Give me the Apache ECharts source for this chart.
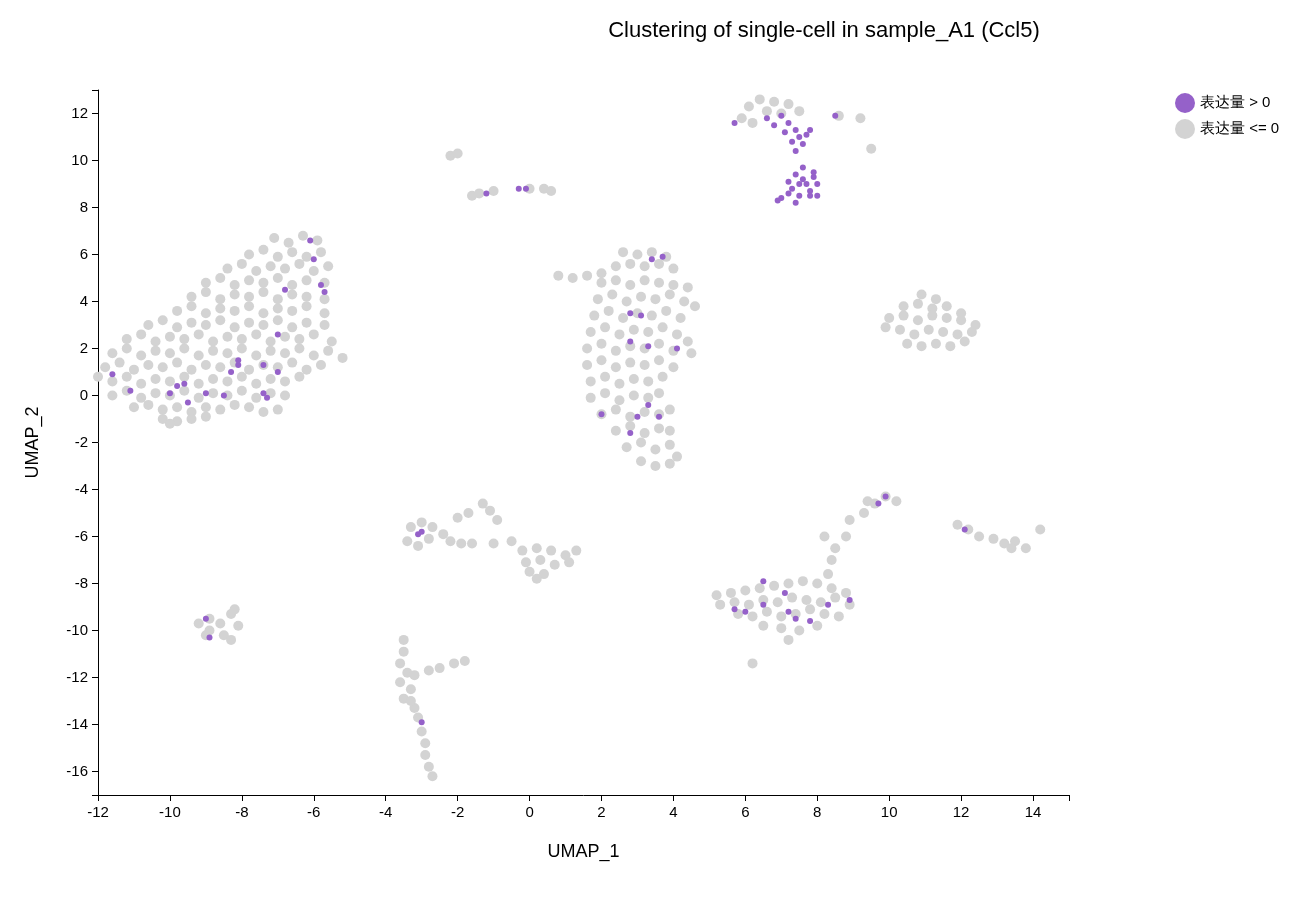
<!DOCTYPE html>
<html><head><meta charset="utf-8">
<script src="https://cdn.jsdelivr.net/npm/echarts@6/dist/echarts.min.js"></script>
<style>html,body{margin:0;background:#fff}#c{width:1312px;height:907px}</style></head>
<body><div id="c"></div>
<script>
const titleText = 'Clustering of single-cell in sample_A1 (Ccl5)';
const seriesNames = ['表达量 > 0', '表达量 <= 0'];
const xTicks = [-12,-10,-8,-6,-4,-2,0,2,4,6,8,10,12,14];
const xTickMarks = [-12,-10,-8,-6,-4,-2,0,2,4,6,8,10,12,14,15];
const yTicks = [-16,-14,-12,-10,-8,-6,-4,-2,0,2,4,6,8,10,12];
const yTickMarks = [-17,-16,-14,-12,-10,-8,-6,-4,-2,0,2,4,6,8,10,12,13];

const grayPoints = [
[-7.1,6.7],[-6.7,6.5],[-6.3,6.8],[-5.9,6.6],
[-7.8,6.0],[-7.4,6.2],[-7.0,5.9],[-6.6,6.1],[-6.2,5.9],[-5.8,6.1],
[-8.4,5.4],[-8.0,5.6],[-7.6,5.3],[-7.2,5.5],[-6.8,5.4],[-6.4,5.6],[-6.0,5.3],[-5.6,5.5],
[-9.0,4.8],[-8.6,5.0],[-8.2,4.7],[-7.8,4.9],[-7.4,4.8],[-7.0,5.0],[-6.6,4.7],[-6.2,4.9],[-5.7,4.8],
[-9.4,4.2],[-9.0,4.4],[-8.6,4.1],[-8.2,4.3],[-7.8,4.2],[-7.4,4.4],[-7.0,4.1],[-6.6,4.3],[-6.2,4.2],[-5.7,4.1],
[-9.8,3.6],[-9.4,3.8],[-9.0,3.5],[-8.6,3.7],[-8.2,3.6],[-7.8,3.8],[-7.4,3.5],[-7.0,3.7],[-6.6,3.6],[-6.2,3.8],[-5.7,3.5],
[-10.6,3.0],[-10.2,3.2],[-9.8,2.9],[-9.4,3.1],[-9.0,3.0],[-8.6,3.2],[-8.2,2.9],[-7.8,3.1],[-7.4,3.0],[-7.0,3.2],[-6.6,2.9],[-6.2,3.1],[-5.7,3.0],
[-11.2,2.4],[-10.8,2.6],[-10.4,2.3],[-10.0,2.5],[-9.6,2.4],[-9.2,2.6],[-8.8,2.3],[-8.4,2.5],[-8.0,2.4],[-7.6,2.6],[-7.2,2.3],[-6.8,2.5],[-6.4,2.4],[-6.0,2.6],[-5.5,2.3],
[-11.6,1.8],[-11.2,2.0],[-10.8,1.7],[-10.4,1.9],[-10.0,1.8],[-9.6,2.0],[-9.2,1.7],[-8.8,1.9],[-8.4,1.8],[-8.0,2.0],[-7.6,1.7],[-7.2,1.9],[-6.8,1.8],[-6.4,2.0],[-6.0,1.7],[-5.6,1.9],[-5.2,1.6],
[-11.8,1.2],[-11.4,1.4],[-11.0,1.1],[-10.6,1.3],[-10.2,1.2],[-9.8,1.4],[-9.4,1.1],[-9.0,1.3],[-8.6,1.2],[-8.2,1.4],[-7.8,1.1],[-7.4,1.3],[-7.0,1.2],[-6.6,1.4],[-6.2,1.1],[-5.8,1.3],
[-12.0,0.8],[-11.6,0.6],[-11.2,0.8],[-10.8,0.5],[-10.4,0.7],[-10.0,0.6],[-9.6,0.8],[-9.2,0.5],[-8.8,0.7],[-8.4,0.6],[-8.0,0.8],[-7.6,0.5],[-7.2,0.7],[-6.8,0.6],[-6.4,0.8],
[-11.6,0.0],[-11.2,0.2],[-10.8,-0.1],[-10.4,0.1],[-10.0,0.0],[-9.6,0.2],[-9.2,-0.1],[-8.8,0.1],[-8.4,0.0],[-8.0,0.2],[-7.6,-0.1],[-7.2,0.1],[-6.8,0.0],
[-11.0,-0.5],[-10.6,-0.4],[-10.2,-0.6],[-9.8,-0.5],[-9.4,-0.7],[-9.0,-0.5],[-8.6,-0.6],[-8.2,-0.4],[-7.8,-0.5],[-7.4,-0.7],[-7.0,-0.6],
[-10.2,-1.0],[-9.8,-1.1],[-9.4,-1.0],[-9.0,-0.9],[-10.0,-1.2],
[2.6,6.1],[3.0,6.0],[3.4,6.1],[3.8,5.9],
[0.8,5.1],[1.2,5.0],[1.6,5.1],[2.0,5.2],[2.4,5.5],[2.8,5.6],[3.2,5.5],[3.6,5.6],[4.0,5.4],
[2.0,4.8],[2.4,4.9],[2.8,4.7],[3.2,4.9],[3.6,4.8],[4.0,4.7],[4.4,4.6],
[1.9,4.1],[2.3,4.3],[2.7,4.0],[3.1,4.2],[3.5,4.1],[3.9,4.3],[4.3,4.0],[4.6,3.8],
[1.8,3.4],[2.2,3.6],[2.6,3.3],[3.0,3.5],[3.4,3.4],[3.8,3.6],[4.2,3.3],
[1.7,2.7],[2.1,2.9],[2.5,2.6],[2.9,2.8],[3.3,2.7],[3.7,2.9],[4.1,2.6],[4.4,2.3],
[1.6,2.0],[2.0,2.2],[2.4,1.9],[2.8,2.1],[3.2,2.0],[3.6,2.2],[4.0,1.9],[4.5,1.8],
[1.6,1.3],[2.0,1.5],[2.4,1.2],[2.8,1.4],[3.2,1.3],[3.6,1.5],[4.0,1.2],
[1.7,0.6],[2.1,0.8],[2.5,0.5],[2.9,0.7],[3.3,0.6],[3.7,0.8],
[1.7,-0.1],[2.1,0.1],[2.5,-0.2],[2.9,0.0],[3.3,-0.1],[3.6,0.1],
[2.0,-0.8],[2.4,-0.6],[2.8,-0.9],[3.2,-0.7],[3.6,-0.8],[3.9,-0.6],
[2.4,-1.5],[2.8,-1.3],[3.2,-1.6],[3.6,-1.4],[3.9,-1.5],
[2.7,-2.2],[3.1,-2.0],[3.5,-2.3],[3.9,-2.1],[4.1,-2.6],
[3.1,-2.8],[3.5,-3.0],[3.9,-2.9],
[10.9,4.3],[11.3,4.1],[10.4,3.8],[10.8,3.9],[11.2,3.7],[11.6,3.8],[12.0,3.5],
[10.0,3.3],[10.4,3.4],[10.8,3.2],[11.2,3.4],[11.6,3.3],[12.0,3.2],[12.4,3.0],
[9.9,2.9],[10.3,2.8],[10.7,2.6],[11.1,2.8],[11.5,2.7],[11.9,2.6],[12.3,2.7],
[10.5,2.2],[10.9,2.1],[11.3,2.2],[11.7,2.1],[12.1,2.3],
[6.1,12.3],[6.4,12.6],[6.8,12.5],[7.2,12.4],[7.5,12.1],[6.6,12.1],[5.9,11.8],[6.2,11.6],[8.6,11.9],[9.2,11.8],[9.5,10.5],[7.0,12.0],
[-2.2,10.2],[-2.0,10.3],[-1.6,8.5],[-1.4,8.6],[-1.0,8.7],[0.0,8.8],[0.4,8.8],[0.6,8.7],
[-3.3,-5.6],[-3.0,-5.4],[-2.7,-5.6],[-2.4,-5.9],[-3.4,-6.2],[-3.1,-6.4],[-2.8,-6.1],[-2.2,-6.2],[-1.9,-6.3],[-1.6,-6.3],[-2.0,-5.2],[-1.7,-5.0],[-1.3,-4.6],[-1.1,-4.9],[-0.9,-5.3],[-0.5,-6.2],[-0.2,-6.6],[0.2,-6.5],[0.6,-6.6],[1.0,-6.8],[1.3,-6.6],[-0.1,-7.1],[0.3,-7.0],[0.7,-7.2],[1.1,-7.1],[0.0,-7.5],[0.4,-7.6],[0.2,-7.8],[-1.0,-6.3],
[-9.2,-9.7],[-8.9,-9.5],[-8.6,-9.7],[-8.3,-9.3],[-8.2,-9.1],[-8.9,-10.0],[-8.5,-10.2],[-8.3,-10.4],[-8.1,-9.8],[-9.0,-10.2],
[-3.5,-10.4],[-3.5,-10.9],[-3.6,-11.4],[-3.4,-11.8],[-3.6,-12.2],[-3.3,-12.5],[-3.5,-12.9],[-3.2,-13.3],[-3.1,-13.7],[-3.0,-14.3],[-2.9,-14.8],[-2.9,-15.3],[-2.8,-15.8],[-2.7,-16.2],[-3.2,-11.9],[-2.8,-11.7],[-2.5,-11.6],[-2.1,-11.4],[-1.8,-11.3],[-3.3,-13.0],
[5.2,-8.5],[5.6,-8.4],[6.0,-8.3],[6.4,-8.2],[6.8,-8.1],[7.2,-8.0],[7.6,-7.9],[8.0,-8.0],[8.4,-8.2],[8.8,-8.4],
[5.3,-8.9],[5.7,-8.8],[6.1,-8.9],[6.5,-8.7],[6.9,-8.8],[7.3,-8.6],[7.7,-8.7],[8.1,-8.8],[8.5,-8.6],[8.9,-8.9],
[5.8,-9.3],[6.2,-9.4],[6.6,-9.2],[7.0,-9.4],[7.4,-9.3],[7.8,-9.1],[8.2,-9.3],[8.6,-9.4],
[6.5,-9.8],[7.0,-9.9],[7.5,-10.0],[8.0,-9.8],[7.2,-10.4],[6.2,-11.4],
[8.3,-7.6],[8.4,-7.0],[8.5,-6.5],[8.8,-6.0],[8.9,-5.3],[9.3,-5.0],[9.6,-4.6],[9.9,-4.3],[10.2,-4.5],[9.4,-4.5],[8.2,-6.0],
[11.9,-5.5],[12.2,-5.7],[12.5,-6.0],[12.9,-6.1],[13.2,-6.3],[13.5,-6.2],[13.8,-6.5],[13.4,-6.5],[14.2,-5.7]
];
const purplePoints = [
[7.0,11.9],[7.2,11.6],[7.4,11.3],[7.5,11.0],[7.3,10.8],[7.6,10.7],[7.7,11.1],[7.8,11.3],[7.4,10.4],[6.8,11.5],[6.6,11.8],[7.1,11.2],
[7.6,9.7],[7.4,9.4],[7.2,9.1],[7.6,9.2],[7.9,9.3],[7.7,9.0],[7.3,8.8],[7.8,8.7],[8.0,8.5],[7.5,8.5],[7.0,8.4],[7.2,8.6],[7.9,9.5],[7.5,9.0],[8.0,9.0],[7.8,8.5],[7.4,8.2],[8.5,11.9],[5.7,11.6],[6.9,8.3],
[-1.2,8.6],[-0.3,8.8],[-0.1,8.8],
[-3.1,-5.9],[-3.0,-5.8],
[-9.0,-9.5],[-8.9,-10.3],
[-3.0,-13.9],
[6.5,-7.9],[5.7,-9.1],[6.0,-9.2],[6.5,-8.9],[7.1,-8.4],[7.2,-9.2],[7.4,-9.5],[7.8,-9.6],[8.3,-8.9],[8.9,-8.7],[9.7,-4.6],[9.9,-4.3],
[12.1,-5.7],
[-11.6,0.9],[-11.1,0.2],[-10.0,0.1],[-9.8,0.4],[-9.6,0.5],[-9.5,-0.3],[-9.0,0.1],[-8.5,0.0],[-8.3,1.0],[-8.1,1.3],[-8.1,1.5],[-7.4,1.3],[-7.4,0.1],[-7.3,-0.1],[-7.0,1.0],[-7.0,2.6],[-6.8,4.5],[-6.1,6.6],[-6.0,5.8],[-5.8,4.7],[-5.7,4.4],
[3.4,5.8],[3.7,5.9],[2.8,3.5],[3.1,3.4],[2.8,2.3],[3.3,2.1],[4.1,2.0],[2.0,-0.8],[3.3,-0.4],[3.0,-0.9],[3.6,-0.9],[2.8,-1.6]
];

const font = 'Liberation Sans, Arial, sans-serif';
const chart = echarts.init(document.getElementById('c'));
const axisCommon = {
  axisLine:{show:true,onZero:false,lineStyle:{color:'#000',width:1}},
  splitLine:{show:false},
  axisLabel:{color:'#000',fontSize:15,fontFamily:font},
  nameTextStyle:{color:'#000',fontSize:18,fontFamily:font}
};
chart.setOption({
  animation:false,
  title:{text:titleText,left:819,top:15,textAlign:'center',textStyle:{fontSize:22,fontWeight:'normal',color:'#000',fontFamily:font}},
  legend:{orient:'vertical',left:1170,top:88,itemWidth:20,itemHeight:20,itemGap:6,icon:'circle',
    textStyle:{fontSize:15,color:'#000',fontFamily:font},data:seriesNames},
  grid:{left:98,right:243,top:90,bottom:112},
  xAxis:Object.assign({},axisCommon,{type:'value',min:-12,max:15,name:'UMAP_1',nameLocation:'middle',nameGap:48,
    axisTick:{show:true,customValues:xTickMarks,length:6,lineStyle:{color:'#000'}},
    axisLabel:Object.assign({},axisCommon.axisLabel,{customValues:xTicks,margin:10})}),
  yAxis:Object.assign({},axisCommon,{type:'value',min:-17,max:13,name:'UMAP_2',nameLocation:'middle',nameGap:56,
    axisTick:{show:true,customValues:yTickMarks,length:6,lineStyle:{color:'#000'}},
    axisLabel:Object.assign({},axisCommon.axisLabel,{customValues:yTicks,margin:10})}),
  series:[
    {name:seriesNames[1],type:'scatter',data:grayPoints,symbolSize:10,itemStyle:{color:'#d3d3d3',opacity:1},z:2},
    {name:seriesNames[0],type:'scatter',data:purplePoints,symbolSize:6,itemStyle:{color:'#9561c9',opacity:1},z:3}
  ]
});
</script></body></html>
